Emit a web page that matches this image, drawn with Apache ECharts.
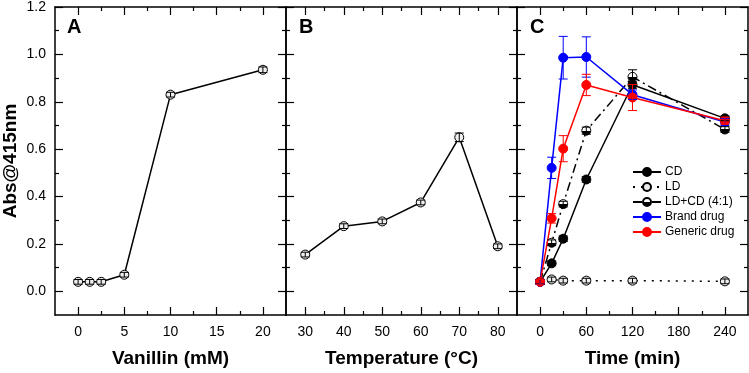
<!DOCTYPE html>
<html>
<head>
<meta charset="utf-8">
<script src="https://cdn.jsdelivr.net/npm/echarts@6/dist/echarts.min.js"></script>
<style>
  html, body { margin: 0; padding: 0; background: #fff; }
  #main { width: 749px; height: 373px; }
</style>
</head>
<body>
<div id="main"></div>
<script>
// panel A: vanillin concentration
var vanillinX = [0, 1.25, 2.5, 5, 10, 20];
var vanillinY = [0.04, 0.04, 0.04, 0.07, 0.83, 0.935];
var vanillinErr = [0.01, 0.01, 0.01, 0.01, 0.01, 0.012];

// panel B: temperature
var tempX = [30, 40, 50, 60, 70, 80];
var tempY = [0.155, 0.275, 0.295, 0.375, 0.65, 0.19];
var tempErr = [0.01, 0.01, 0.01, 0.01, 0.018, 0.01];

// panel C: time course
var timeX = [0, 15, 30, 60, 120, 240];
var cdY = [0.04, 0.118, 0.222, 0.472, 0.872, 0.73];
var cdErr = [0.01, 0.01, 0.012, 0.012, 0.015, 0.01];
var ldY = [0.04, 0.05, 0.045, 0.045, 0.045, 0.042];
var ldErr = [0.01, 0.01, 0.01, 0.01, 0.01, 0.01];
var ldcdY = [0.04, 0.205, 0.368, 0.678, 0.905, 0.683];
var ldcdErr = [0.01, 0.012, 0.012, 0.015, 0.03, 0.012];
var brandY = [0.04, 0.521, 0.986, 0.989, 0.83, 0.715];
var brandErr = [0.01, 0.045, 0.09, 0.085, 0.02, 0.015];
var genericY = [0.04, 0.308, 0.602, 0.871, 0.818, 0.72];
var genericErr = [0.01, 0.02, 0.055, 0.045, 0.055, 0.015];

var yMajor = [0, 0.2, 0.4, 0.6, 0.8, 1.0, 1.2];
var yMinor = [0.1, 0.3, 0.5, 0.7, 0.9, 1.1];

var panels = [
  { left: 54, width: 232, min: -2.5, max: 22.5, major: [0, 5, 10, 15, 20], minor: [2.5, 7.5, 12.5, 17.5], name: 'Vanillin (mM)', letter: 'A' },
  { left: 286, width: 231, min: 25, max: 85, major: [30, 40, 50, 60, 70, 80], minor: [35, 45, 55, 65, 75], name: 'Temperature (°C)', letter: 'B' },
  { left: 517, width: 231, min: -30, max: 270, major: [0, 60, 120, 180, 240], minor: [30, 90, 150, 210], name: 'Time (min)', letter: 'C' }
];

var font = 'Liberation Sans, Arial, sans-serif';
var grids = [], xAxes = [], yAxes = [], graphics = [];
var xMain = [], yMain = [];

panels.forEach(function (p, g) {
  grids.push({ left: p.left, width: p.width, top: 7, bottom: 57 });
  ['bottom', 'top'].forEach(function (pos) {
    [true, false].forEach(function (isMajor) {
      var showLab = pos === 'bottom' && isMajor;
      if (showLab) xMain[g] = xAxes.length;
      xAxes.push({
        type: 'value', gridIndex: g, position: pos, min: p.min, max: p.max,
        name: showLab ? p.name : '', nameLocation: 'middle', nameGap: 34,
        nameTextStyle: { fontFamily: font, fontWeight: 'bold', fontSize: 19, color: '#000' },
        axisLine: { show: isMajor, onZero: false, lineStyle: { color: '#000', width: 1.5 } },
        axisTick: { show: true, inside: true, length: isMajor ? 8 : 4, customValues: isMajor ? p.major : p.minor, lineStyle: { color: '#000', width: 1.2 } },
        axisLabel: { show: showLab, customValues: p.major, margin: 10, fontFamily: font, fontSize: 14, color: '#000' },
        splitLine: { show: false }
      });
    });
  });
  ['left', 'right'].forEach(function (pos) {
    [true, false].forEach(function (isMajor) {
      var showLab = g === 0 && pos === 'left' && isMajor;
      if (pos === 'left' && isMajor) yMain[g] = yAxes.length;
      yAxes.push({
        type: 'value', gridIndex: g, position: pos, min: -0.1, max: 1.2,
        name: showLab ? 'Abs@415nm' : '', nameLocation: 'middle', nameGap: 35,
        nameTextStyle: { fontFamily: font, fontWeight: 'bold', fontSize: 19, color: '#000' },
        axisLine: { show: isMajor, onZero: false, lineStyle: { color: '#000', width: 1.5 } },
        axisTick: { show: true, inside: true, length: isMajor ? 8 : 4, customValues: isMajor ? yMajor : yMinor, lineStyle: { color: '#000', width: 1.2 } },
        axisLabel: { show: showLab, customValues: yMajor, margin: 9, fontFamily: font, fontSize: 14, color: '#000',
          formatter: function (v) { return v.toFixed(1); } },
        splitLine: { show: false }
      });
    });
  });
  graphics.push({
    type: 'text', left: p.left + 13, top: 17,
    style: { text: p.letter, fontFamily: font, fontWeight: 'bold', fontSize: 20, fill: '#000' }
  });
});

function pairs(xs, ys) {
  return xs.map(function (x, i) { return [x, ys[i]]; });
}
function triples(xs, ys, es) {
  return xs.map(function (x, i) { return [x, ys[i], es[i]]; });
}

function errSeries(g, xs, ys, es, color) {
  return {
    type: 'custom', xAxisIndex: xMain[g], yAxisIndex: yMain[g], z: 5,
    data: triples(xs, ys, es),
    encode: { x: 0, y: 1 },
    renderItem: function (params, api) {
      var x = api.value(0), y = api.value(1), e = api.value(2);
      var top = api.coord([x, y + e]);
      var bot = api.coord([x, y - e]);
      var w = 4.5;
      var st = { stroke: color, lineWidth: 1 };
      return {
        type: 'group',
        children: [
          { type: 'line', shape: { x1: top[0], y1: top[1], x2: bot[0], y2: bot[1] }, style: st },
          { type: 'line', shape: { x1: top[0] - w, y1: top[1], x2: top[0] + w, y2: top[1] }, style: st },
          { type: 'line', shape: { x1: bot[0] - w, y1: bot[1], x2: bot[0] + w, y2: bot[1] }, style: st }
        ]
      };
    }
  };
}

function lineSeries(g, name, xs, ys, lineColor, fill, border, lineType, z) {
  return {
    name: name, type: 'line', xAxisIndex: xMain[g], yAxisIndex: yMain[g], z: z || 3,
    data: pairs(xs, ys), symbol: 'circle', symbolSize: 9,
    lineStyle: { color: lineColor, width: 1.5, type: lineType || 'solid' },
    itemStyle: { color: fill, borderColor: border, borderWidth: 1 },
    emphasis: { disabled: true }, animation: false
  };
}

var halfFill = {
  type: 'linear', x: 0, y: 0, x2: 0, y2: 1,
  colorStops: [{ offset: 0, color: '#fff' }, { offset: 0.5, color: '#fff' }, { offset: 0.5, color: '#000' }, { offset: 1, color: '#000' }]
};

var series = [
  lineSeries(0, 'vanillin', vanillinX, vanillinY, '#000', '#eee', '#000'),
  errSeries(0, vanillinX, vanillinY, vanillinErr, '#000'),
  lineSeries(1, 'temperature', tempX, tempY, '#000', '#eee', '#000'),
  errSeries(1, tempX, tempY, tempErr, '#000'),
  lineSeries(2, 'CD', timeX, cdY, '#000', '#000', '#000', 'solid', 3),
  errSeries(2, timeX, cdY, cdErr, '#000'),
  lineSeries(2, 'LD', timeX, ldY, '#000', '#eee', '#000', [2, 6], 3),
  errSeries(2, timeX, ldY, ldErr, '#000'),
  lineSeries(2, 'LD+CD (4:1)', timeX, ldcdY, '#000', halfFill, '#000', [9, 4, 2, 4], 3),
  errSeries(2, timeX, ldcdY, ldcdErr, '#000'),
  lineSeries(2, 'Brand drug', timeX, brandY, '#0000ff', '#0000ff', '#0000ff', 'solid', 4),
  errSeries(2, timeX, brandY, brandErr, '#0000ff'),
  lineSeries(2, 'Generic drug', timeX, genericY, '#ff0000', '#ff0000', '#ff0000', 'solid', 4),
  errSeries(2, timeX, genericY, genericErr, '#ff0000')
];

var myChart = echarts.init(document.getElementById('main'));
var option = {
  animation: false,
  grid: grids,
  xAxis: xAxes,
  yAxis: yAxes,
  legend: {
    data: ['CD', 'LD', 'LD+CD (4:1)', 'Brand drug', 'Generic drug'],
    orient: 'vertical', left: 627, top: 161, padding: 5,
    itemWidth: 28, itemHeight: 10, itemGap: 3,
    textStyle: { fontFamily: font, fontSize: 12, color: '#000', padding: [0, 0, 0, -1] },
    selectedMode: false
  },
  graphic: graphics,
  series: series
};
myChart.setOption(option);
</script>
</body>
</html>
